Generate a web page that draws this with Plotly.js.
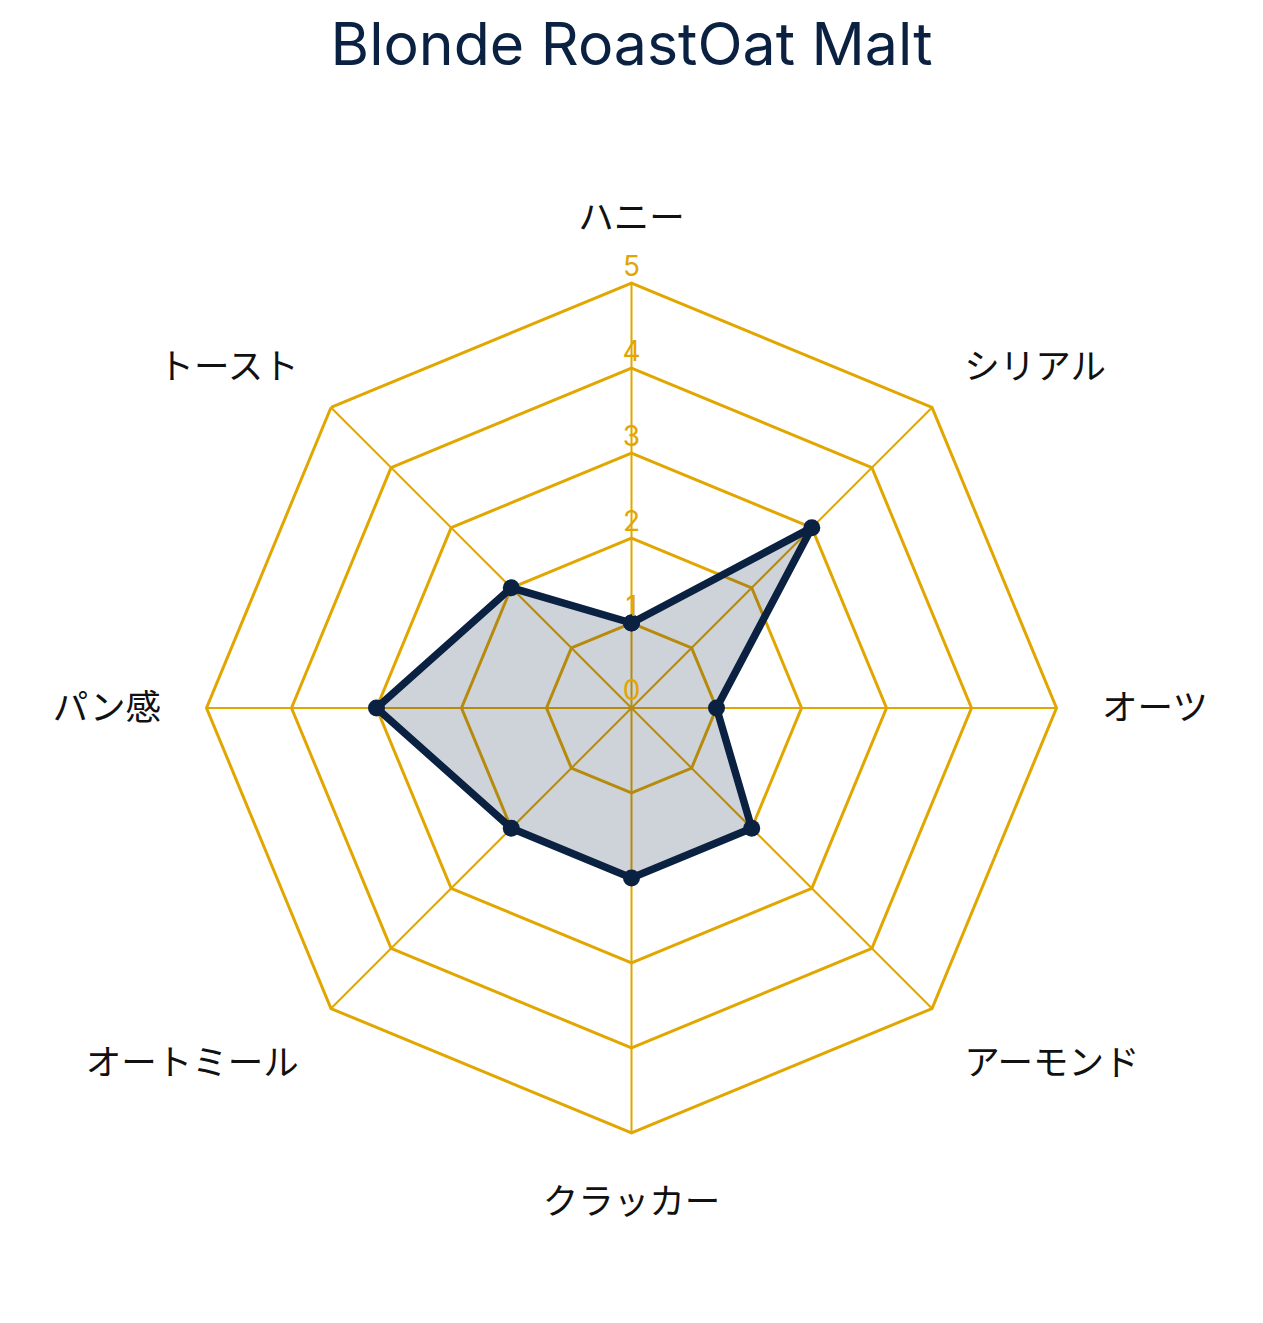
<!DOCTYPE html>
<html>
<head>
<meta charset="utf-8">
<script src="https://cdn.plot.ly/plotly-3.0.1.min.js"></script>
<style>
  html, body { margin: 0; padding: 0; background: #fff; }
  #chart { width: 1263px; height: 1323px; }
</style>
</head>
<body>
<div id="chart"></div>
<script>
const categories = ["ハニー", "シリアル", "オーツ", "アーモンド", "クラッカー", "オートミール", "パン感", "トースト"]
const values = [1, 3, 1, 2, 2, 2, 3, 2]
const radialTicks = [0, 1, 2, 3, 4, 5]

const navy = "#0B2142"
const gold = "#E2A600"

// close the polygon
const r = values.concat([values[0]])
const theta = categories.concat([categories[0]])

const trace = {
  type: "scatterpolar",
  r: r,
  theta: theta,
  mode: "lines+markers",
  fill: "toself",
  fillcolor: "rgba(11,33,66,0.2)",
  line: { color: navy, width: 7.5 },
  marker: { color: navy, size: 17 },
  hoverinfo: "skip",
}

// radial tick labels, centred above the gridline on the first spoke
// (plotly drops a point sitting exactly on the centre, so nudge it off by a hair)
const tickLabels = {
  type: "scatterpolar",
  r: radialTicks.map((v) => (v === 0 ? 0.01 : v)),
  theta: radialTicks.map(() => categories[0]),
  mode: "text",
  text: radialTicks.map(String),
  textposition: "top center",
  textfont: { family: "Inter, 'Noto Sans', sans-serif", size: 28, color: gold },
  hoverinfo: "skip",
  cliponaxis: false,
}

const layout = {
  width: 1263,
  height: 1323,
  margin: { l: 80, r: 80, t: 283, b: 190 },
  paper_bgcolor: "#fff",
  showlegend: false,
  title: {
    text: "Blonde RoastOat Malt",
    font: { family: "Inter, 'Noto Sans', sans-serif", size: 59, color: navy },
    x: 0.5,
    y: 0.982,
    yanchor: "top",
  },
  polar: {
    bgcolor: "#fff",
    gridshape: "linear",
    radialaxis: {
      range: [0, 5],
      tickvals: radialTicks,
      angle: 90,
      showticklabels: false,
      showline: false,
      ticks: "",
      gridcolor: gold,
      gridwidth: 3,
    },
    angularaxis: {
      direction: "clockwise",
      rotation: 90,
      linecolor: gold,
      linewidth: 3,
      gridcolor: gold,
      gridwidth: 2,
      ticks: "outside",
      ticklen: 37,
      tickcolor: "rgba(0,0,0,0)",
      tickfont: { family: "'Noto Sans CJK JP', sans-serif", size: 35.5, color: "#111" },
    },
  },
}

Plotly.newPlot("chart", [trace, tickLabels], layout, { displayModeBar: false })
</script>
</body>
</html>
